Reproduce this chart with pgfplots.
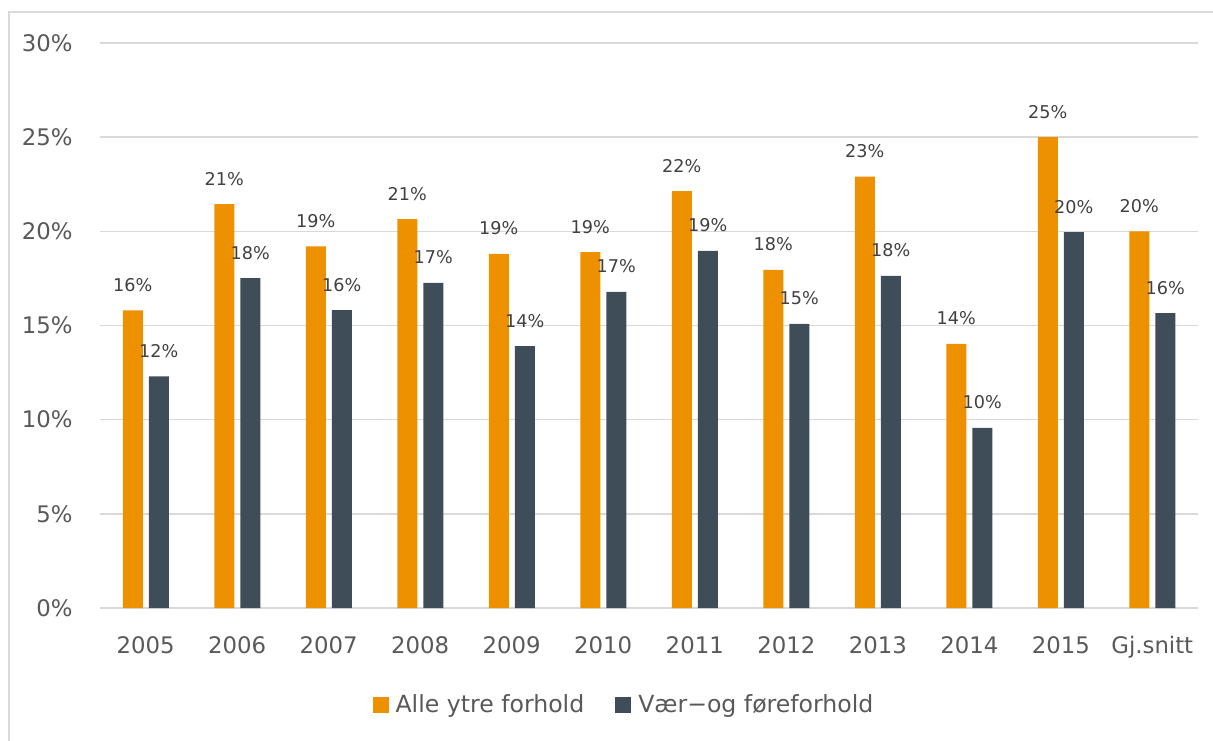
\documentclass[border=0pt]{standalone}
\usepackage{pgfplots}
\pgfplotsset{compat=1.18}
\usepackage{fontspec}
\setmainfont{DejaVu Sans}
\definecolor{orng}{HTML}{ED9100}
\definecolor{slate}{HTML}{3E4D58}
\definecolor{gridc}{HTML}{D9D9D9}
\definecolor{txt}{HTML}{595959}
\definecolor{lbl}{HTML}{404040}
\begin{document}
\begin{tikzpicture}
\useasboundingbox (-50pt,-66pt) rectangle (556.5pt,304pt);
\begin{scope}
\clip (-50pt,-66pt) rectangle (556.5pt,304pt);
\draw[gridc, line width=0.75pt] (-45.5pt,-90pt) rectangle (590pt,298pt);
\end{scope}
\begin{axis}[
  at={(0pt,0pt)}, anchor=south west,
  scale only axis, width=549pt, height=282.5pt,
  xmin=-0.5, xmax=11.5, ymin=0, ymax=30,
  ybar=3pt, bar width=10pt,
  xtick={0,...,11},
  xticklabels={2005,2006,2007,2008,2009,2010,2011,2012,2013,2014,2015,Gj.snitt},
  ytick={0,5,...,30},
  yticklabel={\pgfmathprintnumber{\tick}\%},
  /pgf/number format/assume math mode=true,
  major tick length=0pt,
  axis line style={draw=none},
  ymajorgrids, grid style={gridc, line width=0.75pt},
  tick label style={font=\fontsize{11.4}{13}\selectfont, text=txt},
  yticklabel style={anchor=east, inner sep=0pt, xshift=-13.5pt},
  xticklabel style={anchor=base, inner sep=0pt, yshift=-22.75pt},
  nodes near coords={\pgfmathprintnumber[fixed,precision=0]{\pgfplotspointmeta}\%},
  nodes near coords style={font=\fontsize{8.8}{10}\selectfont, text=lbl, anchor=base, inner sep=0pt, yshift=9.5pt},
  legend image code/.code={\fill[#1] (0pt,-4pt) rectangle (8pt,4pt);},
  legend style={at={(0.4763,-0.1717)}, anchor=center, draw=none, fill=none,
    legend columns=2, font=\fontsize{11.8}{14}\selectfont, text=txt,
    /tikz/every even column/.append style={column sep=15.5pt},
    inner sep=0pt, nodes={inner sep=0pt, xshift=0pt}},
  legend cell align=left,
  clip=false,
]
\addplot[fill=orng, draw=none] coordinates {
 (0,15.8) (1,21.45) (2,19.2) (3,20.65) (4,18.8) (5,18.9) (6,22.14) (7,17.95) (8,22.9) (9,14.02) (10,25.0) (11,20.0)};
\addplot[fill=slate, draw=none] coordinates {
 (0,12.3) (1,17.52) (2,15.82) (3,17.26) (4,13.91) (5,16.78) (6,18.96) (7,15.08) (8,17.63) (9,9.56) (10,19.96) (11,15.66)};
\legend{\hspace{3.5pt}Alle ytre forhold,\hspace{3.5pt}Vær−og føreforhold}
\end{axis}
\end{tikzpicture}
\end{document}
